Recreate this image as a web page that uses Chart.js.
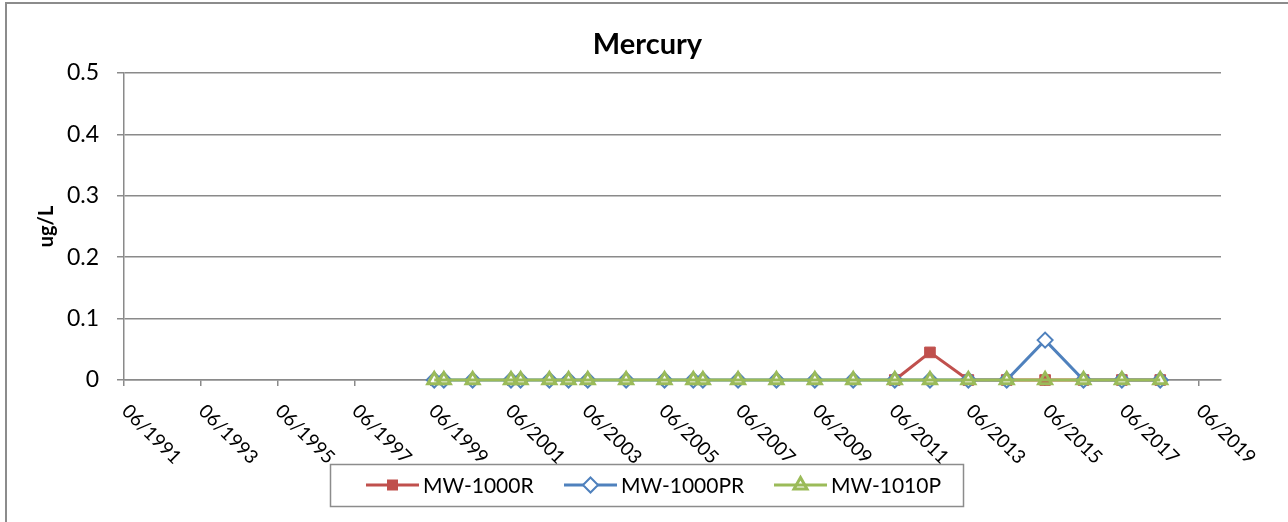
<!DOCTYPE html>
<html>
<head>
<meta charset="utf-8">
<title>Mercury</title>
<script src="https://cdn.jsdelivr.net/npm/chart.js@4.4.0/dist/chart.umd.min.js"></script>
<style>
  html, body { margin: 0; padding: 0; background: #fff; }
  #wrap { width: 1288px; height: 522px; position: relative; }
</style>
</head>
<body>
<div id="wrap"><canvas id="mercuryChart"></canvas></div>
<script>
// date axis: a tick every 2 years, axis runs a little past the last tick
const tickLabels = ['06/1991', '06/1993', '06/1995', '06/1997', '06/1999', '06/2001', '06/2003',
  '06/2005', '06/2007', '06/2009', '06/2011', '06/2013', '06/2015', '06/2017', '06/2019'];
const axisEnd = '01/2020';
const yTicks = [0, 0.1, 0.2, 0.3, 0.4, 0.5];

// MW-1000R
const datesR = ['07/2011', '06/2012', '06/2013', '06/2014', '06/2015', '06/2016', '06/2017', '06/2018'];
const valuesR = [0, 0.045, 0, 0, 0, 0, 0, 0];

// MW-1000PR and MW-1010P were sampled on the same dates
const datesP = ['07/1999', '10/1999', '07/2000', '07/2001', '10/2001', '07/2002', '01/2003', '07/2003',
  '07/2004', '07/2005', '04/2006', '07/2006', '06/2007', '06/2008', '06/2009', '06/2010',
  '07/2011', '06/2012', '06/2013', '06/2014', '06/2015', '06/2016', '06/2017', '06/2018'];
const valuesPR = [0, 0, 0, 0, 0, 0, 0, 0, 0, 0, 0, 0, 0, 0, 0, 0, 0, 0, 0, 0, 0.065, 0, 0, 0];
const valuesP = [0, 0, 0, 0, 0, 0, 0, 0, 0, 0, 0, 0, 0, 0, 0, 0, 0, 0, 0, 0, 0, 0, 0, 0];

const seriesNames = ['MW-1000R', 'MW-1000PR', 'MW-1010P'];
const seriesColors = ['#C0504D', '#4F81BD', '#9BBB59'];

const FONT = 'Lato, "Open Sans", sans-serif';
const GRID = '#8a8a8a';

// "MM/YYYY" -> month count, used as the x value
function toMonth(s) {
  const p = s.split('/');
  return Number(p[1]) * 12 + Number(p[0]) - 1;
}
function pairs(dates, vals) {
  return dates.map((d, i) => ({ x: toMonth(d), y: vals[i] }));
}

// white background and the outer frame (top and left edge only)
const framePlugin = {
  id: 'frame',
  beforeDraw(chart) {
    const ctx = chart.ctx;
    ctx.save();
    ctx.fillStyle = '#fff';
    ctx.fillRect(0, 0, chart.width, chart.height);
    ctx.strokeStyle = '#8c8c8c';
    ctx.lineWidth = 2;
    ctx.beginPath();
    ctx.moveTo(6, chart.height);
    ctx.lineTo(6, 3);
    ctx.lineTo(chart.width, 3);
    ctx.stroke();
    ctx.restore();
  }
};

// x labels slant down to the right, starting at their tick
const slantLabels = {
  id: 'slantLabels',
  afterDraw(chart) {
    const xs = chart.scales.x;
    const ctx = chart.ctx;
    ctx.save();
    ctx.font = '19px ' + FONT;
    ctx.fillStyle = '#000';
    ctx.textAlign = 'left';
    ctx.textBaseline = 'middle';
    tickLabels.forEach(t => {
      const px = xs.getPixelForValue(toMonth(t));
      ctx.save();
      ctx.translate(px + 1, xs.top + 28);
      ctx.rotate(Math.PI / 4);
      ctx.fillText(t, 0, 0);
      ctx.restore();
    });
    ctx.restore();
  }
};

function drawMarker(ctx, i, x, y) {
  const c = seriesColors[i];
  ctx.save();
  ctx.strokeStyle = c;
  if (i === 0) {
    ctx.fillStyle = c;
    ctx.fillRect(x - 5.5, y - 5.5, 11, 11);
  } else if (i === 1) {
    ctx.fillStyle = '#fff';
    ctx.lineWidth = 2;
    ctx.beginPath();
    ctx.moveTo(x, y - 7.5); ctx.lineTo(x + 7.5, y); ctx.lineTo(x, y + 7.5); ctx.lineTo(x - 7.5, y);
    ctx.closePath();
    ctx.fill(); ctx.stroke();
  } else {
    ctx.lineWidth = 3;
    ctx.beginPath();
    ctx.moveTo(x, y - 7.5); ctx.lineTo(x + 6.5, y + 4); ctx.lineTo(x - 6.5, y + 4);
    ctx.closePath();
    ctx.stroke();
  }
  ctx.restore();
}

// boxed legend under the axis labels
const boxLegend = {
  id: 'boxLegend',
  afterDraw(chart) {
    const ctx = chart.ctx;
    const starts = [366, 564, 774];
    const cy = 485;
    ctx.save();
    ctx.strokeStyle = '#8c8c8c';
    ctx.lineWidth = 1.5;
    ctx.strokeRect(330.5, 464.5, 633, 42);
    ctx.font = '21px ' + FONT;
    ctx.textAlign = 'left';
    ctx.textBaseline = 'middle';
    seriesNames.forEach((name, i) => {
      const x0 = starts[i];
      ctx.strokeStyle = seriesColors[i];
      ctx.lineWidth = 3;
      ctx.beginPath();
      ctx.moveTo(x0, cy);
      ctx.lineTo(x0 + 53, cy);
      ctx.stroke();
      drawMarker(ctx, i, x0 + 26.5, cy);
      ctx.fillStyle = '#000';
      ctx.fillText(name, x0 + 57, cy + 1);
    });
    ctx.restore();
  }
};

const ctx = document.getElementById('mercuryChart').getContext('2d');

new Chart(ctx, {
  type: 'line',
  data: {
    datasets: [{
      label: seriesNames[0],
      data: pairs(datesR, valuesR),
      borderColor: seriesColors[0],
      backgroundColor: seriesColors[0],
      borderWidth: 3,
      pointStyle: 'rect',
      pointRadius: 7.5,
      pointBorderWidth: 1,
      order: 3,
      clip: false
    }, {
      label: seriesNames[1],
      data: pairs(datesP, valuesPR),
      borderColor: seriesColors[1],
      backgroundColor: '#fff',
      borderWidth: 3,
      pointStyle: 'rectRot',
      pointRadius: 7.5,
      pointBorderWidth: 2,
      order: 2,
      clip: false
    }, {
      label: seriesNames[2],
      data: pairs(datesP, valuesP),
      borderColor: seriesColors[2],
      backgroundColor: 'rgba(255,255,255,0)',
      borderWidth: 3,
      pointStyle: 'triangle',
      pointRadius: 7.5,
      pointBorderWidth: 3,
      order: 1,
      clip: false
    }]
  },
  options: {
    responsive: true,
    maintainAspectRatio: false,
    animation: false,
    // side padding keeps the title centred like the original
    layout: { padding: { left: 37, right: 30, top: 0, bottom: 0 } },
    plugins: {
      legend: { display: false },
      tooltip: { enabled: false },
      title: {
        display: true,
        text: 'Mercury',
        color: '#000',
        font: { family: FONT, size: 29, weight: 'bold', lineHeight: 1.2 },
        padding: { top: 27.6, bottom: 10.6 }
      }
    },
    scales: {
      x: {
        type: 'linear',
        min: toMonth(tickLabels[0]),
        max: toMonth(axisEnd),
        afterBuildTicks: s => { s.ticks = tickLabels.map(t => ({ value: toMonth(t) })); },
        afterFit: s => { s.height = 142; },
        ticks: { display: false },
        grid: { drawOnChartArea: false, tickLength: 6, color: GRID, lineWidth: 1.5 },
        border: { color: GRID, width: 1.5 }
      },
      y: {
        min: 0,
        max: 0.5,
        afterBuildTicks: s => { s.ticks = yTicks.map(v => ({ value: v })); },
        afterFit: s => { s.width = 87; },
        ticks: {
          color: '#000',
          padding: 18,
          font: { family: FONT, size: 23 },
          callback: v => String(Number(v.toFixed(1)))
        },
        grid: { color: GRID, lineWidth: 1.5, tickLength: 7 },
        border: { color: GRID, width: 1.5 },
        title: {
          display: true,
          text: 'ug/L',
          color: '#000',
          font: { family: FONT, size: 20, weight: 'bold', lineHeight: 1 },
          padding: { top: 0, bottom: 0 }
        }
      },
      // empty right-hand strip, only there to hold the plot edge in place
      yRight: {
        position: 'right',
        afterFit: s => { s.width = 37; },
        ticks: { display: false },
        grid: { display: false },
        border: { display: false }
      }
    }
  },
  plugins: [framePlugin, slantLabels, boxLegend]
});
</script>
</body>
</html>
